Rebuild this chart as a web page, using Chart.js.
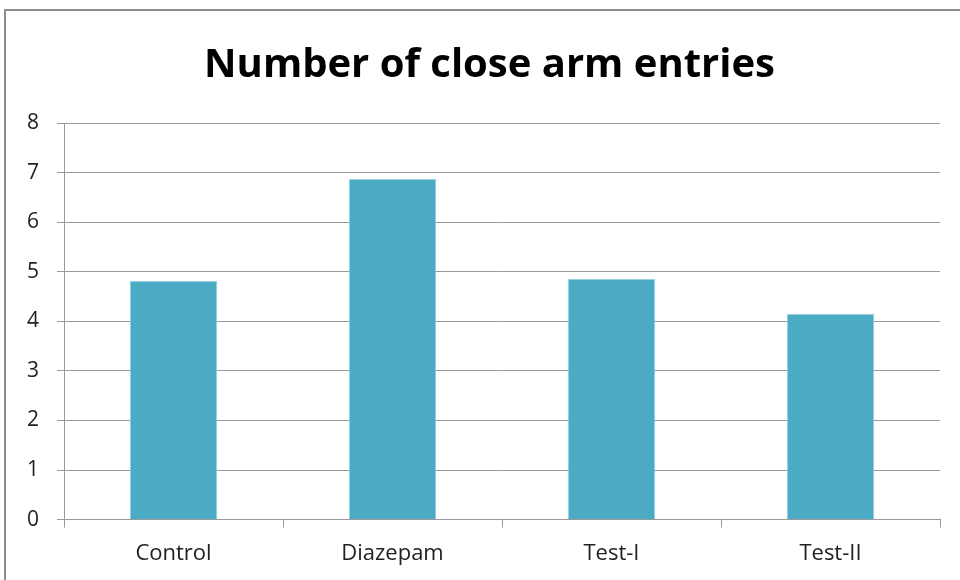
<!DOCTYPE html>
<html>
<head>
<meta charset="utf-8">
<script src="https://cdn.jsdelivr.net/npm/chart.js@4"></script>
<style>
  body { margin: 0; background: #fff; }
  #wrap { position: relative; width: 960px; height: 580px; overflow: hidden; }
  #frame { position: absolute; left: 4px; top: 9px; width: 1000px; height: 620px; border: 2px solid #8c8c8c; box-sizing: border-box; }
  canvas { position: absolute; left: 0; top: 0; }
</style>
</head>
<body>
<div id="wrap">
  <div id="frame"></div>
  <canvas id="chart" width="960" height="580"></canvas>
</div>
<script>
const categories = ['Control', 'Diazepam', 'Test-I', 'Test-II'];
const entries = [4.82, 6.87, 4.86, 4.15];
const yTicks = [0, 1, 2, 3, 4, 5, 6, 7, 8];

const gridColor = '#9a9a9a';
const fontFamily = "'Open Sans', 'DejaVu Sans', sans-serif";

// the title in the original sits a little right of the canvas centre
const shiftTitle = {
    id: 'shiftTitle',
    afterLayout(chart) {
        if (chart.titleBlock) {
            chart.titleBlock.left += 30;
        }
    }
};

new Chart(document.getElementById('chart'), {
    type: 'bar',
    data: {
        labels: categories,
        datasets: [{
            label: 'Number of close arm entries',
            data: entries,
            backgroundColor: '#4babc5',
            borderColor: '#9fd3e2',
            borderWidth: 1,
            barPercentage: 0.4,
            categoryPercentage: 1
        }]
    },
    options: {
        responsive: false,
        animation: false,
        layout: {
            padding: { left: 9, right: 20, top: 18, bottom: 0 }
        },
        plugins: {
            legend: { display: false },
            tooltip: { enabled: false },
            title: {
                display: true,
                text: 'Number of close arm entries',
                color: '#000',
                font: { family: fontFamily, size: 40, weight: 'bold' },
                padding: { top: 24, bottom: 33 }
            }
        },
        scales: {
            x: {
                grid: {
                    offset: true,
                    drawOnChartArea: false,
                    color: gridColor,
                    tickLength: 8
                },
                border: { color: gridColor },
                ticks: {
                    color: '#222',
                    padding: 13,
                    font: { family: fontFamily, size: 22 }
                }
            },
            y: {
                min: 0,
                max: 8,
                afterBuildTicks: axis => {
                    axis.ticks = yTicks.map(v => ({ value: v }));
                },
                grid: {
                    color: gridColor,
                    tickLength: 7
                },
                border: { color: gridColor },
                ticks: {
                    color: '#222',
                    padding: 18,
                    font: { family: fontFamily, size: 21 }
                }
            }
        }
    },
    plugins: [shiftTitle]
});
</script>
</body>
</html>
